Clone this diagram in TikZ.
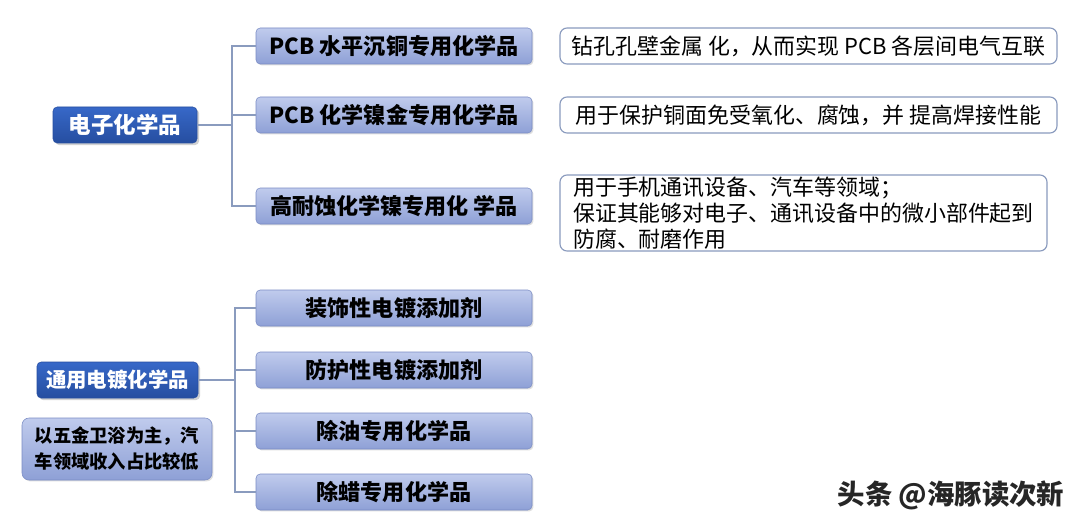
\documentclass[tikz,border=0pt]{standalone}
\usepackage{fontspec}
\setmainfont{Noto Sans CJK SC}
\usepackage{xcolor}
\usepackage{tikz}
\usetikzlibrary{positioning,calc,shadows}
\definecolor{topiccolor}{RGB}{55, 104, 200}
\definecolor{topicdark}{RGB}{38, 78, 160}
\definecolor{subcolor}{RGB}{176, 190, 232}
\definecolor{subdark}{RGB}{142, 160, 214}
\definecolor{subborder}{RGB}{122, 140, 196}
\definecolor{linecolor}{RGB}{138, 155, 190}
\tikzset{
    topic/.style={rectangle, rounded corners=3pt, draw=topicdark, top color=topiccolor, bottom color=topicdark,
        text=white, font=\fontsize{16}{18}\selectfont\bfseries, minimum height=36*0.025cm, inner sep=0pt,
        drop shadow={shadow xshift=1.5pt, shadow yshift=-1.5pt, opacity=0.35}},
    sub topic/.style={rectangle, rounded corners=3pt, draw=subborder, top color=subcolor!80, bottom color=subdark,
        font=\fontsize{15.7}{18}\selectfont\bfseries, minimum width=276*0.025cm, minimum height=36*0.025cm, inner sep=0pt,
        drop shadow={shadow xshift=1pt, shadow yshift=-1pt, opacity=0.25}},
    note box/.style={sub topic, minimum width=190*0.025cm, minimum height=62*0.025cm, align=center,
        font=\fontsize{13}{18.5}\selectfont\bfseries, rounded corners=5pt},
    detail box/.style={rectangle, rounded corners=5pt, draw=linecolor, thick, fill=white,
        font=\fontsize{15.6}{18.5}\selectfont, minimum height=36*0.025cm, inner sep=0pt},
    branch/.style={draw=linecolor, thick},
    watermark/.style={font=\fontsize{19.5}{22}\selectfont\bfseries, text=black!85}
}

\begin{document}
\begin{tikzpicture}[x=0.025cm, y=-0.025cm]
    \useasboundingbox[fill=white] (0,0) rectangle (1080,532);

    % Electronic chemicals - top group
    \node[topic, minimum width=144*0.025cm] (elec) at (125,125) {电子化学品};
    \node[sub topic] (pcbcu) at (394,46) {PCB 水平沉铜专用化学品};
    \node[sub topic] (pcbni) at (394,115) {PCB 化学镍金专用化学品};
    \node[sub topic] (hini) at (394,206) {高耐蚀化学镍专用化 学品};

    \node[detail box, minimum width=497*0.025cm] (dcu) at (808.5,46) {钻孔孔壁金属 化，从而实现 PCB 各层间电气互联};
    \node[detail box, minimum width=497*0.025cm] (dni) at (808.5,115) {用于保护铜面免受氧化、腐蚀，并 提高焊接性能};
    \node[detail box, minimum width=487*0.025cm, minimum height=76*0.025cm, align=left,
        font=\fontsize{15.6}{18.3}\selectfont] (dhi) at (803.5,213)
        {用于手机通讯设备、汽车等领域；\\保证其能够对电子、通讯设备中的微小部件起到\\防腐、耐磨作用};

    \coordinate (j1) at (232,125);
    \draw[branch] (elec.east) -- (j1);
    \foreach \n in {pcbcu,pcbni,hini}
        \draw[branch] (j1) |- (\n.west);

    % General electroplating chemicals - bottom group
    \node[topic, minimum width=161*0.025cm, font=\fontsize{14.5}{18}\selectfont\bfseries] (plate) at (117.5,380) {通用电镀化学品};
    \node[note box] (note) at (117,449) {以五金卫浴为主，汽\\车领域收入占比较低};
    \node[sub topic] (deco) at (394,308) {装饰性电镀添加剂};
    \node[sub topic] (prot) at (394,370) {防护性电镀添加剂};
    \node[sub topic] (oil) at (394,431) {除油专用化学品};
    \node[sub topic] (wax) at (394,492) {除蜡专用化学品};

    \coordinate (j2) at (235,380);
    \draw[branch] (plate.east) -- (j2);
    \foreach \n in {deco,prot,oil,wax}
        \draw[branch] (j2) |- (\n.west);

    % Source mark
    \node[watermark] (mark) at (951,495) {头条 @海豚读次新};
\end{tikzpicture}
\end{document}
